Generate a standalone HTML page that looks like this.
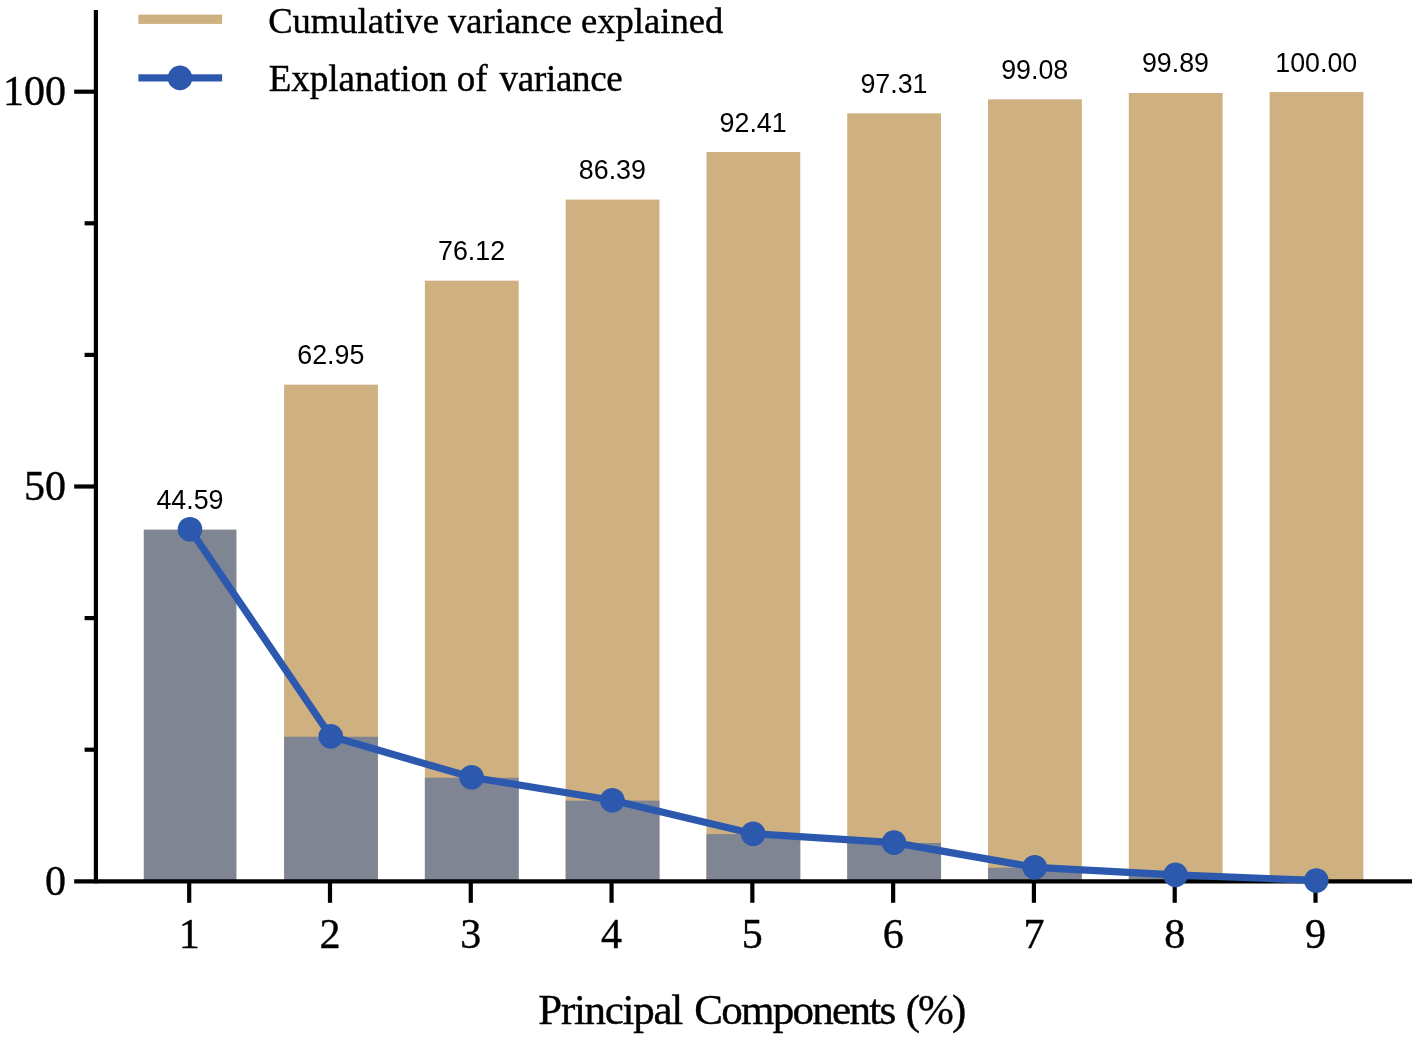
<!DOCTYPE html>
<html><head><meta charset="utf-8"><title>PCA variance</title>
<style>html,body{margin:0;padding:0;background:#fff}svg{display:block;filter:blur(0.45px)}.s{font-family:"Liberation Serif","Times New Roman",serif;fill:#000;stroke:#000;stroke-width:.4px;stroke-linejoin:round}.a{font-family:"Liberation Sans",Arial,sans-serif;fill:#000}</style></head><body>
<svg width="1418" height="1040" viewBox="0 0 1418 1040">
<rect width="1418" height="1040" fill="#fff"/>
<rect x="284.09" y="384.65" width="93.8" height="496.65" fill="#cfb080"/>
<rect x="424.88" y="280.66" width="93.8" height="600.64" fill="#cfb080"/>
<rect x="565.66" y="199.56" width="93.8" height="681.74" fill="#cfb080"/>
<rect x="706.45" y="152.03" width="93.8" height="729.27" fill="#cfb080"/>
<rect x="847.24" y="113.34" width="93.8" height="767.96" fill="#cfb080"/>
<rect x="988.02" y="99.36" width="93.8" height="781.94" fill="#cfb080"/>
<rect x="1128.81" y="92.97" width="93.8" height="788.33" fill="#cfb080"/>
<rect x="1269.60" y="92.10" width="93.8" height="789.20" fill="#cfb080"/>
<rect x="143.75" y="529.62" width="92.7" height="351.68" fill="#7f8593"/>
<rect x="284.09" y="736.73" width="93.8" height="144.57" fill="#7f8593"/>
<rect x="424.88" y="777.71" width="93.8" height="103.59" fill="#7f8593"/>
<rect x="565.66" y="800.61" width="93.8" height="80.69" fill="#7f8593"/>
<rect x="706.45" y="834.17" width="93.8" height="47.13" fill="#7f8593"/>
<rect x="847.24" y="843.01" width="93.8" height="38.29" fill="#7f8593"/>
<rect x="988.02" y="867.72" width="93.8" height="13.58" fill="#7f8593"/>
<rect x="1128.81" y="875.30" width="93.8" height="6.00" fill="#7f8593"/>
<rect x="1269.60" y="880.83" width="93.8" height="0.47" fill="#7f8593"/>
<line x1="95.9" y1="10" x2="95.9" y2="883.3" stroke="#000" stroke-width="4.2"/>
<line x1="74.2" y1="881.3" x2="1412" y2="881.3" stroke="#000" stroke-width="4.2"/>
<line x1="84.6" y1="749.70" x2="96" y2="749.70" stroke="#000" stroke-width="4.2"/>
<line x1="84.6" y1="618.10" x2="96" y2="618.10" stroke="#000" stroke-width="4.2"/>
<line x1="74.2" y1="486.50" x2="96" y2="486.50" stroke="#000" stroke-width="4.2"/>
<line x1="84.6" y1="354.90" x2="96" y2="354.90" stroke="#000" stroke-width="4.2"/>
<line x1="84.6" y1="223.30" x2="96" y2="223.30" stroke="#000" stroke-width="4.2"/>
<line x1="74.2" y1="91.70" x2="96" y2="91.70" stroke="#000" stroke-width="4.2"/>
<line x1="189.20" y1="881.3" x2="189.20" y2="902.8" stroke="#000" stroke-width="4.2"/>
<text class="s" x="189.20" y="948.3" font-size="42" text-anchor="middle">1</text>
<line x1="329.99" y1="881.3" x2="329.99" y2="902.8" stroke="#000" stroke-width="4.2"/>
<text class="s" x="329.99" y="948.3" font-size="42" text-anchor="middle">2</text>
<line x1="470.77" y1="881.3" x2="470.77" y2="902.8" stroke="#000" stroke-width="4.2"/>
<text class="s" x="470.77" y="948.3" font-size="42" text-anchor="middle">3</text>
<line x1="611.56" y1="881.3" x2="611.56" y2="902.8" stroke="#000" stroke-width="4.2"/>
<text class="s" x="611.56" y="948.3" font-size="42" text-anchor="middle">4</text>
<line x1="752.35" y1="881.3" x2="752.35" y2="902.8" stroke="#000" stroke-width="4.2"/>
<text class="s" x="752.35" y="948.3" font-size="42" text-anchor="middle">5</text>
<line x1="893.14" y1="881.3" x2="893.14" y2="902.8" stroke="#000" stroke-width="4.2"/>
<text class="s" x="893.14" y="948.3" font-size="42" text-anchor="middle">6</text>
<line x1="1033.92" y1="881.3" x2="1033.92" y2="902.8" stroke="#000" stroke-width="4.2"/>
<text class="s" x="1033.92" y="948.3" font-size="42" text-anchor="middle">7</text>
<line x1="1174.71" y1="881.3" x2="1174.71" y2="902.8" stroke="#000" stroke-width="4.2"/>
<text class="s" x="1174.71" y="948.3" font-size="42" text-anchor="middle">8</text>
<line x1="1315.50" y1="881.3" x2="1315.50" y2="902.8" stroke="#000" stroke-width="4.2"/>
<text class="s" x="1315.50" y="948.3" font-size="42" text-anchor="middle">9</text>
<text class="s" x="66" y="105.20" font-size="42" text-anchor="end">100</text>
<text class="s" x="66" y="500.00" font-size="42" text-anchor="end">50</text>
<text class="s" x="66" y="894.80" font-size="42" text-anchor="end">0</text>
<polyline points="190.00,529.22 330.79,736.33 471.57,777.31 612.36,800.21 753.15,833.77 893.94,842.61 1034.72,867.32 1175.51,874.90 1316.30,880.43" fill="none" stroke="#2c59ad" stroke-width="7.2" stroke-linejoin="round"/>
<circle cx="190.00" cy="529.22" r="12.3" fill="#2c59ad"/>
<circle cx="330.79" cy="736.33" r="12.3" fill="#2c59ad"/>
<circle cx="471.57" cy="777.31" r="12.3" fill="#2c59ad"/>
<circle cx="612.36" cy="800.21" r="12.3" fill="#2c59ad"/>
<circle cx="753.15" cy="833.77" r="12.3" fill="#2c59ad"/>
<circle cx="893.94" cy="842.61" r="12.3" fill="#2c59ad"/>
<circle cx="1034.72" cy="867.32" r="12.3" fill="#2c59ad"/>
<circle cx="1175.51" cy="874.90" r="12.3" fill="#2c59ad"/>
<circle cx="1316.30" cy="880.43" r="12.3" fill="#2c59ad"/>
<text class="a" x="190.00" y="509.12" font-size="26.8" text-anchor="middle">44.59</text>
<text class="a" x="330.79" y="364.15" font-size="26.8" text-anchor="middle">62.95</text>
<text class="a" x="471.57" y="260.16" font-size="26.8" text-anchor="middle">76.12</text>
<text class="a" x="612.36" y="179.06" font-size="26.8" text-anchor="middle">86.39</text>
<text class="a" x="753.15" y="131.53" font-size="26.8" text-anchor="middle">92.41</text>
<text class="a" x="893.94" y="92.84" font-size="26.8" text-anchor="middle">97.31</text>
<text class="a" x="1034.72" y="78.86" font-size="26.8" text-anchor="middle">99.08</text>
<text class="a" x="1175.51" y="72.47" font-size="26.8" text-anchor="middle">99.89</text>
<text class="a" x="1316.30" y="71.60" font-size="26.8" text-anchor="middle">100.00</text>
<rect x="138.4" y="14.6" width="83.7" height="9.3" fill="#cfb080"/>
<rect x="138.4" y="74.3" width="83.7" height="7.2" fill="#2c59ad"/>
<circle cx="180" cy="77.9" r="12.3" fill="#2c59ad"/>
<text class="s" x="268.2" y="32.5" font-size="36.6">Cumulative variance explained</text>
<text class="s" y="90.6" font-size="37"><tspan x="268.7">Explanation of</tspan> <tspan x="499.6" textLength="123.2" lengthAdjust="spacing">variance</tspan></text>
<text class="s" y="1024.3" font-size="43"><tspan x="538.3" textLength="144.9" lengthAdjust="spacing">Principal</tspan> <tspan x="694.2" textLength="202" lengthAdjust="spacing">Components</tspan> <tspan x="905.7" textLength="60.6" lengthAdjust="spacing">(%)</tspan></text>
</svg></body></html>
